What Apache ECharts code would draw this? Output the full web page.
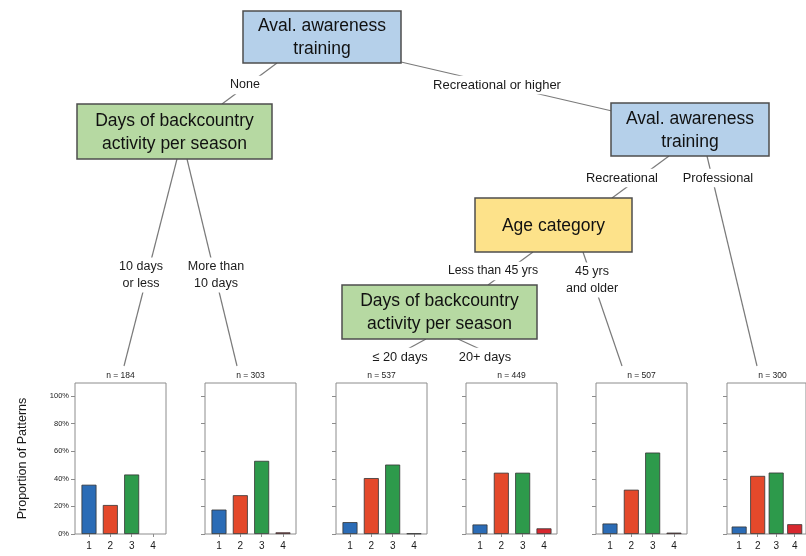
<!DOCTYPE html>
<html><head><meta charset="utf-8">
<script src="https://cdn.jsdelivr.net/npm/echarts@6/dist/echarts.min.js"></script>
<style>html,body{margin:0;padding:0;background:#fff}#c{width:806px;height:556px}</style>
</head><body><div id="c"></div>
<script>
// ---- data ----
const categories = [1, 2, 3, 4];
const categoryLabels = ['1', '2', '3', '4'];
const yTicks = [0, 0.2, 0.4, 0.6, 0.8, 1.0];
const yTickLabels = ['0%', '20%', '40%', '60%', '80%', '100%'];
const nodeSizes = [184, 303, 537, 449, 507, 300];
const panel1 = [0.357, 0.210, 0.431, 0.000];
const panel2 = [0.177, 0.281, 0.530, 0.012];
const panel3 = [0.086, 0.405, 0.503, 0.004];
const panel4 = [0.069, 0.444, 0.444, 0.041];
const panel5 = [0.076, 0.321, 0.590, 0.010];
const panel6 = [0.054, 0.421, 0.445, 0.071];
const panels = [panel1, panel2, panel3, panel4, panel5, panel6];
const yAxisTitle = 'Proportion of Patterns';

// ---- layout / style ----
const FONT = '"Liberation Sans", Arial, sans-serif';
const barColors = ['#2b6cb6', '#e4492b', '#2d9a4b', '#d7282f'];
const panelLefts = [75, 205, 336, 466, 596, 727];
const panelW = 91, panelTop = 383, panelH = 151;

const grids = [], xAxes = [], yAxes = [], series = [];
panels.forEach((vals, i) => {
  grids.push({ left: panelLefts[i], top: panelTop, width: panelW, height: panelH,
    show: true, borderColor: '#8c8c8c', borderWidth: 1, backgroundColor: 'transparent', containLabel: false });
  xAxes.push({ gridIndex: i, type: 'value', min: 0.344, max: 4.61,
    axisLine: { show: false }, splitLine: { show: false },
    axisTick: { show: true, customValues: categories, length: 3, lineStyle: { color: '#8c8c8c' } },
    axisLabel: { show: true, customValues: categories, formatter: v => categoryLabels[categories.indexOf(v)],
      fontSize: 10, color: '#1a1a1a', margin: 7, fontFamily: FONT } });
  yAxes.push({ gridIndex: i, type: 'value', min: 0, max: 1.094,
    axisLine: { show: false }, splitLine: { show: false },
    axisTick: { show: true, customValues: yTicks, length: 4, lineStyle: { color: '#8c8c8c' } },
    axisLabel: { show: i === 0, customValues: yTicks, formatter: v => yTickLabels[yTicks.findIndex(t => Math.abs(t - v) < 1e-6)],
      fontSize: 7.5, color: '#222', margin: 6, fontFamily: FONT },
    name: i === 0 ? yAxisTitle : '', nameLocation: 'middle', nameGap: 46, nameRotate: 90,
    nameTextStyle: { fontSize: 12.5, color: '#1a1a1a', fontFamily: FONT } });
  series.push({ type: 'bar', xAxisIndex: i, yAxisIndex: i, barWidth: 15,
    data: categories.map((c, j) => ({ value: [c, vals[j]],
      itemStyle: { color: barColors[j], borderWidth: vals[j] > 0 ? 0.8 : 0 } })),
    itemStyle: { borderColor: '#333' }, animation: false });
});

// ---- tree diagram (graphic) ----
const graphic = [];
const edges = [
  [277, 63, 222, 104, 'None', 245, 85, 12.5],
  [401, 62, 612, 111, 'Recreational or higher', 497, 85, 13],
  [177, 159, 124, 366, '10 days\nor less', 141, 275, 12.5],
  [187, 159, 237, 366, 'More than\n10 days', 216, 275, 12.5],
  [669, 156, 612, 198, 'Recreational', 622, 178, 12.8],
  [707, 156, 757, 366, 'Professional', 718, 178, 12.8],
  [533, 252, 488, 285, 'Less than 45 yrs', 493, 271, 12.3],
  [583, 252, 622, 366, '45 yrs\nand older', 592, 280, 12.5],
  [426, 339, 384, 362, '\u2264 20 days', 400, 357, 12.8],
  [458, 339, 508, 362, '20+ days', 485, 357, 12.8]
];
edges.forEach(e => {
  graphic.push({ type: 'line', shape: { x1: e[0], y1: e[1], x2: e[2], y2: e[3] },
    style: { stroke: '#7a7a7a', lineWidth: 1.2 }, z: 5 });
  graphic.push({ type: 'text', x: e[5], y: e[6], z: 6,
    style: { text: e[4], fill: '#1a1a1a', font: e[7] + 'px ' + FONT, align: 'center', verticalAlign: 'middle',
      lineHeight: 16.5, backgroundColor: '#fff', padding: [1, 3] } });
});
const boxes = [
  [243, 11, 401, 63, '#b5d0ea', 'Aval. awareness\ntraining'],
  [77, 104, 272, 159, '#b6d9a2', 'Days of backcountry\nactivity per season'],
  [611, 103, 769, 156, '#b5d0ea', 'Aval. awareness\ntraining'],
  [475, 198, 632, 252, '#fde28a', 'Age category'],
  [342, 285, 537, 339, '#b6d9a2', 'Days of backcountry\nactivity per season']
];
boxes.forEach(b => {
  graphic.push({ type: 'rect', shape: { x: b[0], y: b[1], width: b[2] - b[0], height: b[3] - b[1] },
    style: { fill: b[4], stroke: '#4d4d4d', lineWidth: 1.5 }, z: 10 });
  graphic.push({ type: 'text', x: (b[0] + b[2]) / 2, y: (b[1] + b[3]) / 2 + 1, z: 11,
    style: { text: b[5], fill: '#111', font: '17.5px ' + FONT, align: 'center', verticalAlign: 'middle', lineHeight: 23 } });
});
nodeSizes.forEach((n, i) => {
  graphic.push({ type: 'text', x: panelLefts[i] + panelW / 2, y: 376, z: 6,
    style: { text: 'n = ' + n, fill: '#222', font: '8.5px ' + FONT, align: 'center', verticalAlign: 'middle' } });
});

const chart = echarts.init(document.getElementById('c'), null, { renderer: 'canvas' });
chart.setOption({ animation: false, backgroundColor: '#fff', grid: grids, xAxis: xAxes, yAxis: yAxes, series, graphic });
</script></body></html>
